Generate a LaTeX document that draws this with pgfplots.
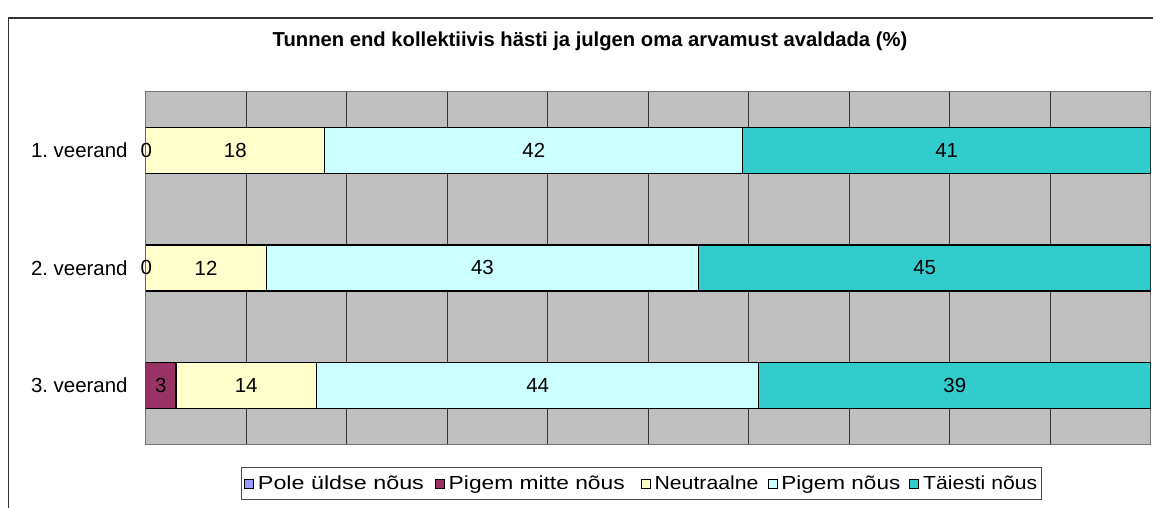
\documentclass[border=0pt]{standalone}
\usepackage{fontspec}
\setmainfont{Liberation Sans}
\usepackage{graphicx}
\usepackage{pgfplots}
\pgfplotsset{compat=1.18}
\definecolor{cA}{HTML}{9999FF}
\definecolor{cB}{HTML}{993366}
\definecolor{cC}{HTML}{FFFFCC}
\definecolor{cD}{HTML}{CCFFFF}
\definecolor{cE}{HTML}{33CCCC}
\definecolor{plotbg}{HTML}{C0C0C0}
\frenchspacing
\newcommand\lt[3]{\makebox[#1][l]{\resizebox{#2}{\height}{#3}}}
\begin{document}
\begin{tikzpicture}[x=1bp,y=1bp]
\begin{axis}[
  name=main,
  at={(145,54)}, anchor=south west,
  width=1005bp, height=353bp, scale only axis,
  xbar stacked, bar width=46bp,
  xmin=0, xmax=100, ymin=0.5, ymax=3.5,
  axis background/.style={fill=plotbg},
  axis line style={color=black!55, line width=1bp},
  xtick={0,10,...,90}, xticklabels={}, major x tick style={draw=none},
  xmajorgrids, grid style={color=black!80, line width=0.9bp},
  ytick={1,2,3}, yticklabels={{3. veerand},{2. veerand},{1. veerand}},
  major y tick style={draw=none},
  ytick pos=left,
  yticklabel style={font=\fontsize{20.5}{24}\selectfont, anchor=east, inner sep=0pt, xshift=-18bp},
  extra y ticks={0.5,1.5,2.5,3.5}, extra y tick labels={},
  extra y tick style={major tick length=8bp, tick align=outside, grid=none, tick style={draw=black!80, line width=1bp}},
  every axis plot/.append style={draw=black, line width=1.3bp},
  legend image code/.code={\draw[#1, line width=0.8bp] (0bp,-4.5bp) rectangle (9bp,4.5bp);},
  legend columns=5,
  legend style={at={(0.0945,-0.0652)}, anchor=north west, draw=black!70, line width=0.9bp,
    font=\fontsize{19}{22}\selectfont, inner xsep=3bp, inner ysep=8bp,
    nodes={inner sep=0pt},
    /tikz/every odd column/.append style={column sep=4bp},
    /tikz/every even column/.append style={column sep=9bp}},
  legend cell align=left,
]
\addlegendimage{fill=cA, draw=black}
\addlegendentry{\lt{168bp}{166bp}{Pole üldse nõus}}
\addplot[fill=cB] coordinates {(3,1) (0,2) (0,3)};
\addlegendentry{\lt{183bp}{176bp}{Pigem mitte nõus}}
\addplot[fill=cC] coordinates {(14,1) (12,2) (17.822,3)};
\addlegendentry{\lt{104bp}{104bp}{Neutraalne}}
\addplot[fill=cD] coordinates {(44,1) (43,2) (41.584,3)};
\addlegendentry{\lt{119bp}{119bp}{Pigem nõus}}
\addplot[fill=cE] coordinates {(39,1) (45,2) (40.594,3)};
\addlegendentry{\lt{115bp}{114bp}{Täiesti nõus}}
\end{axis}
\begin{axis}[
  at={(145,54)}, anchor=south west,
  width=1005bp, height=353bp, scale only axis,
  xmin=0, xmax=100, ymin=0.5, ymax=3.5,
  hide axis, clip=false,
]
\addplot[draw=none, mark=none, nodes near coords, point meta=explicit symbolic,
  every node near coord/.style={anchor=center, font=\fontsize{20.5}{24}\selectfont, text=black}]
  table[meta=lab] {
x y lab
0.05 3 0
8.911 3 18
38.614 3 42
79.703 3 41
0.05 2 0
6 2 12
33.5 2 43
77.5 2 45
1.5 1 3
10 1 14
39 1 44
80.5 1 39
};
\end{axis}
\draw[line width=1.4bp, color=black!80] (8.5,-40) -- (8.5,490) -- (1180,490);
\node[font=\bfseries\fontsize{20.3}{24}\selectfont] at (590,467) {Tunnen end kollektiivis hästi ja julgen oma arvamust avaldada (\%)};
\pgfresetboundingbox
\useasboundingbox (0,0) rectangle (1153,508);
\end{tikzpicture}
\end{document}
